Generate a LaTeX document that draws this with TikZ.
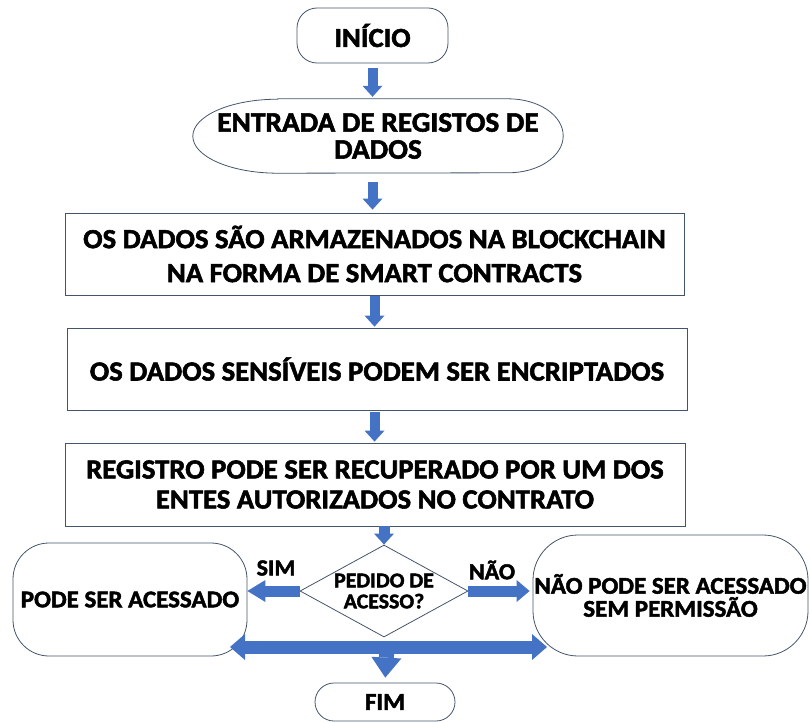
\documentclass[tikz,border=0pt]{standalone}
\usepackage{fontspec}
\setmainfont{Carlito}[FakeStretch=1.04,BoldFeatures={FakeBold=2}]
\usepackage{tikz}
\usetikzlibrary{arrows.meta,shapes.geometric}
\definecolor{flowblue}{HTML}{4472C4}
\definecolor{outline}{HTML}{44546A}
\newcommand{\boxfont}[2]{\fontsize{#1}{#2}\selectfont\bfseries}

\begin{document}
\begin{tikzpicture}[
                    x=1pt,
                    y=-1pt,
                    font=\bfseries
                ]
                \tikzstyle{proc}=[
                    draw=outline,
                    line width=0.8pt,
                    align=center,
                    inner sep=0pt,
                    text=black
                ]
                \tikzstyle{flow}=[
                    draw=flowblue,
                    line width=10pt,
                    -{Triangle[width=20pt,length=11pt,line width=0pt]}
                ]

                \useasboundingbox (0,0) rectangle (810,722);

                \node[proc, rounded corners=20pt, minimum width=151pt, minimum height=55pt,
                      font=\boxfont{27.5}{29}] (inicio) at (372.5,35.5) {INÍCIO};
                \node[align=center, inner sep=0pt, minimum width=370pt, minimum height=74pt,
                      font=\boxfont{28.2}{27}] (entrada) at (378,136) {ENTRADA DE REGISTOS DE\\DADOS};
                \draw[outline, line width=0.8pt]
                    ([xshift=85pt]entrada.north west) -- ([xshift=-55pt]entrada.north east)
                    arc[start angle=90, end angle=-90, x radius=55pt, y radius=37pt]
                    -- ([xshift=85pt]entrada.south west)
                    arc[start angle=270, end angle=90, x radius=85pt, y radius=37pt]
                    -- cycle;
                \node[proc, minimum width=619pt, minimum height=82pt,
                      font=\boxfont{27.6}{34}] (armazena) at (374.5,254)
                      {OS DADOS SÃO ARMAZENADOS NA BLOCKCHAIN\\NA FORMA DE SMART CONTRACTS};
                \node[proc, minimum width=620pt, minimum height=82pt,
                      font=\boxfont{27.6}{34}] (encripta) at (377,369)
                      {OS DADOS SENSÍVEIS PODEM SER ENCRIPTADOS};
                \node[proc, minimum width=620pt, minimum height=83pt,
                      font=\boxfont{27.6}{30}] (recupera) at (375,484.5)
                      {REGISTRO PODE SER RECUPERADO POR UM DOS\\ENTES AUTORIZADOS NO CONTRATO};
                \node[proc, diamond, aspect=1.83, minimum width=168pt, minimum height=92pt,
                      font=\boxfont{21}{21}] (pedido) at (384,591) {PEDIDO DE\\ACESSO?};
                \node[proc, rounded corners=36pt, minimum width=234pt, minimum height=113pt,
                      font=\boxfont{24}{26}] (pode) at (130,599.5) {PODE SER ACESSADO};
                \node[proc, rounded corners=45pt, minimum width=275pt, minimum height=121pt,
                      font=\boxfont{24}{23}] (nao) at (670.5,595.5)
                      {NÃO PODE SER ACESSADO\\SEM PERMISSÃO};
                \node[proc, rounded corners=19pt, minimum width=140pt, minimum height=38pt,
                      font=\boxfont{24}{26}] (fim) at (385,702) {FIM};

                \node[font=\boxfont{23}{24}] (sim) at (276,568) {SIM};
                \node[font=\boxfont{23}{24}] (naolabel) at (492,570) {NÃO};

                \coordinate (splitL) at (230,647);
                \coordinate (splitR) at (547,647);
                \coordinate (split) at (387,647);

                \path
                (inicio.south) edge [flow, shorten <=5pt, shorten >=2pt]
                    (inicio.south |- entrada.north)
                (entrada.south -| inicio.south) edge [flow, shorten <=9pt, shorten >=3pt]
                    (inicio.south |- armazena.north)
                (armazena.south) edge [flow, shorten <=1pt, shorten >=1pt]
                    (armazena.south |- encripta.north)
                (encripta.south -| armazena.south) edge [flow, shorten <=2pt, shorten >=1pt]
                    (armazena.south |- recupera.north)
                (recupera.south -| pedido.north) edge [flow, line width=11pt]
                    (pedido.north)
                (pedido.west) edge [flow, line width=11pt,
                    -{Triangle[width=22pt,length=18pt,line width=0pt]}]
                    (pedido.west -| pode.east)
                (pedido.east) edge [flow, line width=11pt, shorten >=3pt,
                    -{Triangle[width=22pt,length=13pt,line width=0pt]}]
                    (pedido.east -| nao.west)
                (splitL) edge [flow, line width=13pt,
                    {Triangle[width=26pt,length=15pt,line width=0pt]}-{Triangle[width=26pt,length=15pt,line width=0pt]}]
                    (splitR)
                (split) edge [flow, line width=15pt, shorten >=5pt,
                    -{Triangle[width=30pt,length=20pt,line width=0pt]}]
                    (fim.north)
                ;
            \end{tikzpicture}
\end{document}
